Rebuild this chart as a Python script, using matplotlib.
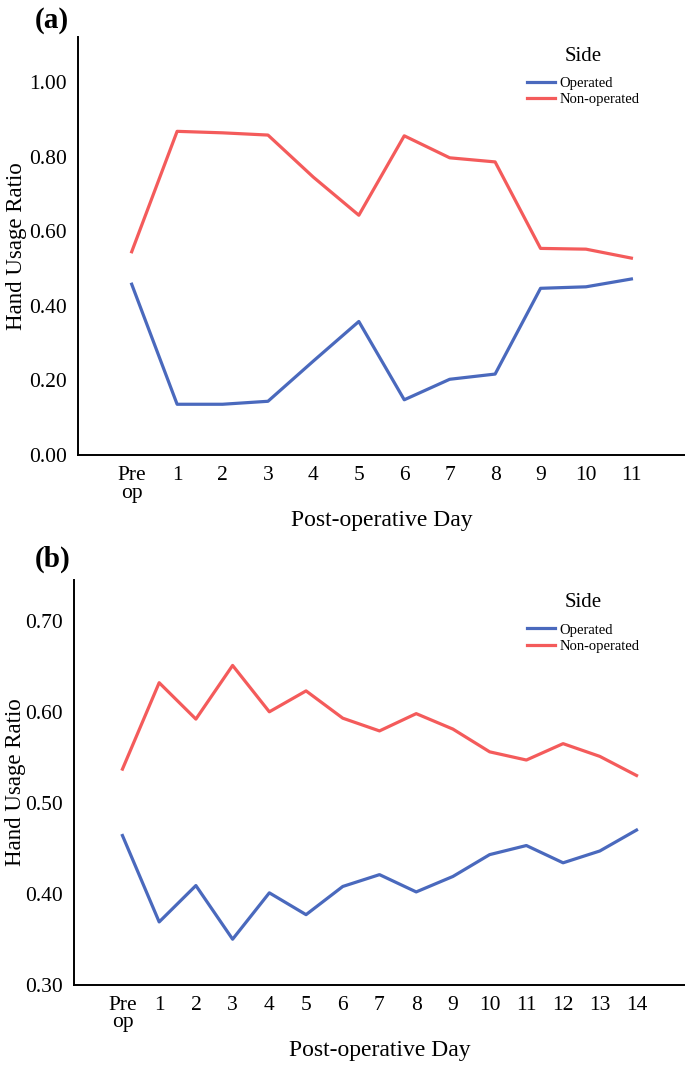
import matplotlib
matplotlib.use('Agg')
import matplotlib.pyplot as plt

# --- Data ---
DAYS_A = ['Pre\nop', '1', '2', '3', '4', '5', '6', '7', '8', '9', '10', '11']
OPERATED_A = [0.458, 0.136, 0.136, 0.144, 0.252, 0.358, 0.148, 0.203, 0.217, 0.447, 0.451, 0.472]
NON_OPERATED_A = [0.545, 0.868, 0.864, 0.858, 0.745, 0.643, 0.856, 0.797, 0.786, 0.554, 0.552, 0.528]

DAYS_B = ['Pre\nop'] + [str(d) for d in range(1, 15)]
OPERATED_B = [0.464, 0.369, 0.409, 0.350, 0.401, 0.377, 0.408, 0.421, 0.402, 0.419,
              0.443, 0.453, 0.434, 0.447, 0.470]
NON_OPERATED_B = [0.537, 0.632, 0.592, 0.651, 0.600, 0.623, 0.593, 0.579, 0.598, 0.581,
                  0.556, 0.547, 0.565, 0.551, 0.530]

YTICKS_A = [0.0, 0.2, 0.4, 0.6, 0.8, 1.0]
YTICKS_B = [0.3, 0.4, 0.5, 0.6, 0.7]

BLUE = '#4A69BD'
RED = '#F45B5B'

plt.rcParams['font.family'] = ['Liberation Serif', 'DejaVu Serif']


def draw_panel(ax, days, operated, non_operated, yticks, ylim, pad, ylab_x, leg_anchor):
    x = list(range(len(days)))
    ax.plot(x, operated, color=BLUE, lw=2.3, label='Operated')
    ax.plot(x, non_operated, color=RED, lw=2.3, label='Non-operated')

    ax.set_xlim(-pad, len(days) - 1 + pad)
    ax.set_ylim(*ylim)
    ax.set_xticks(x)
    ax.set_xticklabels(days, fontsize=15.5, va='top', linespacing=0.9)
    ax.set_yticks(yticks)
    ax.set_yticklabels([f'{v:.2f}' for v in yticks], fontsize=15.5)
    ax.tick_params(length=0, pad=8)

    for side in ('top', 'right'):
        ax.spines[side].set_visible(False)
    for side in ('left', 'bottom'):
        ax.spines[side].set_linewidth(1.4)

    ax.set_xlabel('Post-operative Day', fontsize=17, labelpad=5.5)
    ax.set_ylabel('Hand Usage Ratio', fontsize=16.5)
    ax.yaxis.set_label_coords(ylab_x, 0.5)

    leg = ax.legend(title='Side', loc='upper left', bbox_to_anchor=leg_anchor,
                    frameon=False, fontsize=10.5, title_fontsize=15,
                    handlelength=1.9, handletextpad=0.3, labelspacing=0.2,
                    borderpad=0, borderaxespad=0)
    leg._legend_box.align = 'center'
    leg._legend_box.sep = 8


fig = plt.figure(figsize=(6.85, 10.68), dpi=100)

ax_a = fig.add_axes([0.114, 0.574, 0.886, 0.391])
draw_panel(ax_a, DAYS_A, OPERATED_A, NON_OPERATED_A, YTICKS_A, (0, 1.12), 1.18,
           -0.085, (0.74, 0.977))

ax_b = fig.add_axes([0.108, 0.078, 0.892, 0.379])
draw_panel(ax_b, DAYS_B, OPERATED_B, NON_OPERATED_B, YTICKS_B, (0.30, 0.745), 1.32,
           -0.078, (0.742, 0.967))

fig.text(0.05, 0.981, '(a)', fontsize=21, fontweight='bold', va='center')
fig.text(0.05, 0.476, '(b)', fontsize=21, fontweight='bold', va='center')

fig.savefig('out.png', dpi=100)
